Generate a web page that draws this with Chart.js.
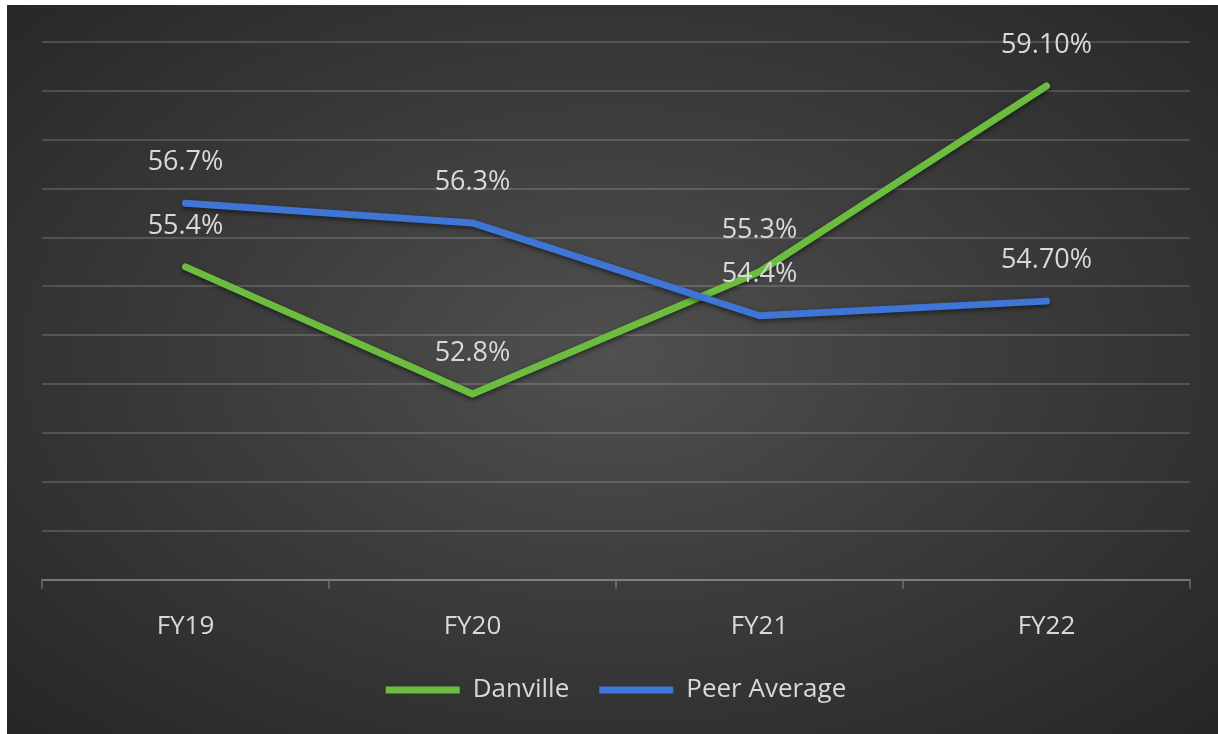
<!DOCTYPE html>
<html lang="en">
<head>
  <meta charset="UTF-8" />
  <title>Danville vs Peer Average</title>
  <script src="https://cdn.jsdelivr.net/npm/chart.js"></script>
  <style>
    body {
      margin: 0;
      background: #fff;
    }
    .chart-box {
      position: absolute;
      left: 7px;
      top: 5px;
      width: 1211px;
      height: 729px;
      background: radial-gradient(ellipse at 50% 48%, #505050 0%, #3c3c3c 45%, #262626 100%);
    }
  </style>
</head>
<body>

<div class="chart-box">
  <canvas id="lineChart"></canvas>
</div>

<script>
  const years = ['FY19', 'FY20', 'FY21', 'FY22'];
  const danville = [55.4, 52.8, 55.3, 59.1];
  const peerAvg = [56.7, 56.3, 54.4, 54.7];
  const danvilleLabels = ['55.4%', '52.8%', '55.3%', '59.10%'];
  const peerLabels = ['56.7%', '56.3%', '54.4%', '54.70%'];

  const textColor = '#d9d9d9';
  const gridColor = 'rgba(255,255,255,0.16)';

  // line shadow + value labels above each point
  const labelPlugin = {
    id: 'valueLabels',
    beforeDatasetDraw(chart) {
      const ctx = chart.ctx;
      ctx.save();
      ctx.shadowColor = 'rgba(0,0,0,0.55)';
      ctx.shadowBlur = 5;
      ctx.shadowOffsetY = 2;
    },
    afterDatasetDraw(chart) {
      chart.ctx.restore();
    },
    afterDatasetsDraw(chart) {
      const ctx = chart.ctx;
      ctx.save();
      ctx.font = '27px "Open Sans"';
      ctx.fillStyle = textColor;
      ctx.textAlign = 'center';
      ctx.textBaseline = 'middle';
      chart.data.datasets.forEach((ds, i) => {
        const meta = chart.getDatasetMeta(i);
        meta.data.forEach((pt, j) => {
          ctx.fillText(ds.valueLabels[j], pt.x, pt.y - 41);
        });
      });
      ctx.restore();
    }
  };

  const ctx = document.getElementById('lineChart').getContext('2d');
  new Chart(ctx, {
    type: 'line',
    data: {
      labels: years,
      datasets: [{
        label: 'Danville',
        data: danville,
        valueLabels: danvilleLabels,
        borderColor: '#6cbd3f',
        backgroundColor: '#6cbd3f',
        borderWidth: 7,
        borderCapStyle: 'round',
        borderJoinStyle: 'round',
        pointRadius: 0,
        tension: 0,
        order: 2
      }, {
        label: 'Peer Average',
        data: peerAvg,
        valueLabels: peerLabels,
        borderColor: '#3f75d4',
        backgroundColor: '#3f75d4',
        borderWidth: 7,
        borderCapStyle: 'round',
        borderJoinStyle: 'round',
        pointRadius: 0,
        tension: 0,
        order: 1
      }]
    },
    options: {
      responsive: true,
      maintainAspectRatio: false,
      animation: false,
      layout: {
        padding: { left: 35, right: 28, top: 37, bottom: 21 }
      },
      scales: {
        x: {
          offset: true,
          afterFit(scale) {
            scale.height -= 17;
          },
          grid: {
            offset: true,
            drawOnChartArea: false,
            tickLength: 9,
            color: 'rgba(255,255,255,0.22)',
            lineWidth: 2
          },
          border: { color: 'rgba(255,255,255,0.22)', width: 2 },
          ticks: {
            color: textColor,
            font: { family: 'Open Sans', size: 26 },
            padding: 22
          }
        },
        y: {
          min: 49,
          max: 60,
          ticks: { display: false, stepSize: 1 },
          grid: { color: gridColor, lineWidth: 2, drawTicks: false },
          border: { display: false }
        }
      },
      plugins: {
        legend: {
          position: 'bottom',
          labels: {
            sort: (a, b) => a.datasetIndex - b.datasetIndex,
            usePointStyle: true,
            pointStyle: 'line',
            pointStyleWidth: 74,
            color: textColor,
            font: { family: 'Open Sans', size: 26 },
            padding: 30
          }
        },
        tooltip: { enabled: false }
      }
    },
    plugins: [labelPlugin]
  });
</script>

</body>
</html>
